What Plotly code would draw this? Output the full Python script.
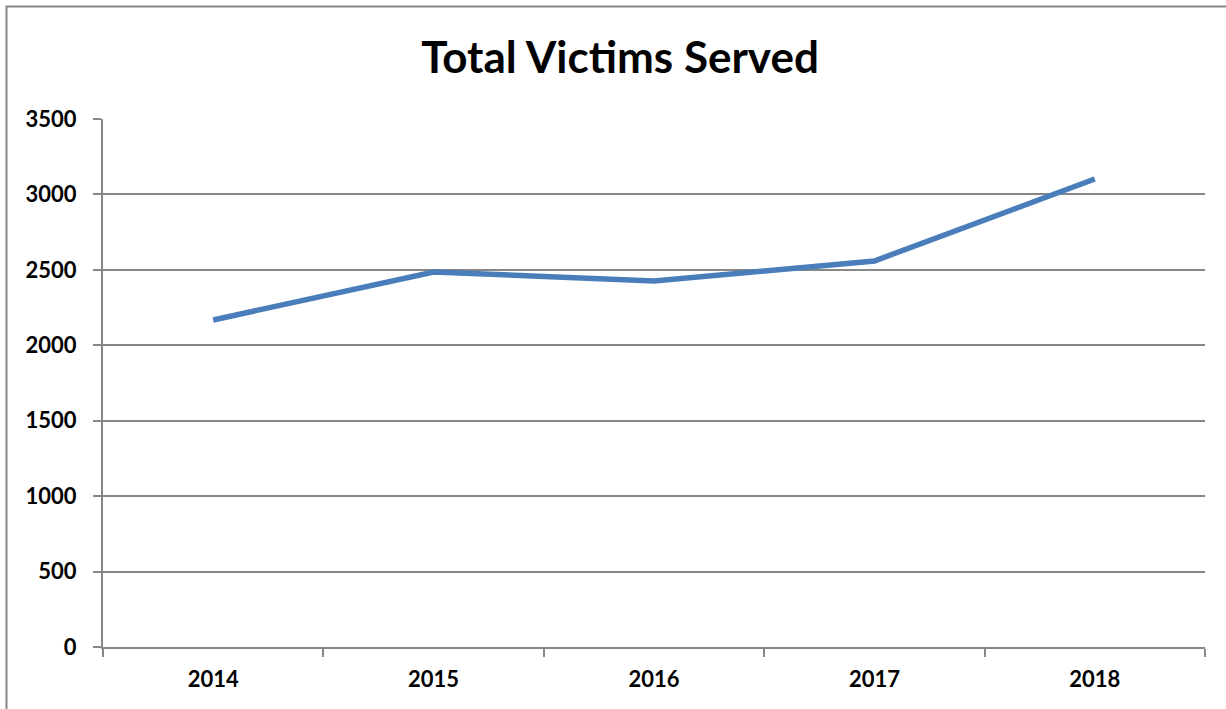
import plotly.graph_objects as go

years = ["2014", "2015", "2016", "2017", "2018"]
victims = [2168, 2486, 2426, 2559, 3102]
y_ticks = [0, 500, 1000, 1500, 2000, 2500, 3000, 3500]

GRAY = "#878787"
FONT = "Lato"

fig = go.Figure()
fig.add_trace(go.Scatter(
    x=years, y=victims, mode="lines",
    line=dict(color="#4a7ebb", width=5.5),
    hoverinfo="skip", showlegend=False,
))

L, R, T, B = 103, 21, 119, 62
W, H = 1226, 709
pw, ph = W - L - R, H - T - B

fig.update_layout(
    width=W, height=H,
    margin=dict(l=L, r=R, t=T, b=B),
    paper_bgcolor="white", plot_bgcolor="white",
    title=dict(text="<b>Total Victims Served</b>", x=620 / W, xanchor="center",
               y=1 - 58 / H, yanchor="middle",
               font=dict(family=FONT, size=44, color="black")),
    font=dict(family=FONT, color="black"),
    shapes=[dict(type="rect", xref="paper", yref="paper",
                 x0=(6.5 - L) / pw, x1=(1240 - L) / pw,
                 y0=(H - B - 720) / ph, y1=(H - B - 6.5) / ph,
                 line=dict(color=GRAY, width=2), fillcolor="rgba(0,0,0,0)", layer="below")],
)

fig.update_xaxes(
    type="category", range=[-0.5, 4.5],
    tickson="boundaries", ticks="outside", ticklen=8, tickwidth=1.5, tickcolor=GRAY,
    showline=True, linecolor=GRAY, linewidth=2,
    showgrid=False, zeroline=False,
    tickfont=dict(family=FONT, size=22, color="black"),
    ticklabelstandoff=12,
    tickprefix="<b>", ticksuffix="</b>",
)
fig.update_yaxes(
    range=[0, 3500], tickvals=y_ticks, ticktext=[f"<b>{v}</b>" for v in y_ticks],
    ticks="outside", ticklen=8, tickwidth=1.5, tickcolor=GRAY,
    showline=True, linecolor=GRAY, linewidth=2,
    showgrid=True, gridcolor=GRAY, gridwidth=1.5, zeroline=False,
    tickfont=dict(family=FONT, size=22, color="black"),
    ticklabelstandoff=12,
)

fig.write_html("out.html")
